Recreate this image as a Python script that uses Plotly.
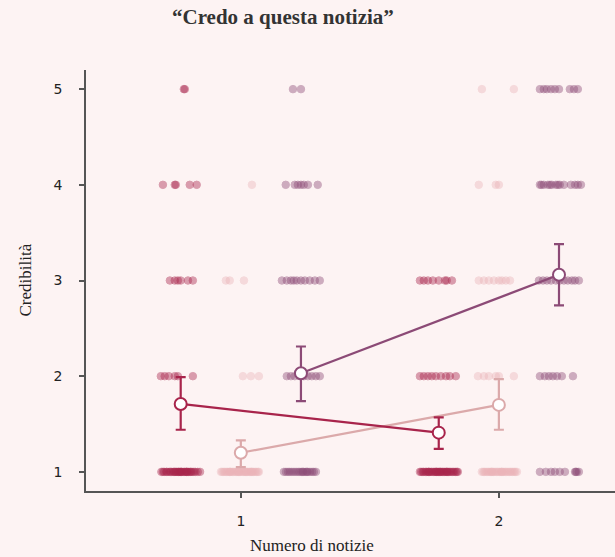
import plotly.graph_objects as go

# ---------------- data ----------------
levels = [1, 2, 3, 4, 5]
x_ticks = [1, 2]
x_tick_labels = ["1", "2"]

# jittered individual responses (x position, by rating level)
crimson_pts = {
    5: [0.779, 0.783],
    4: [0.698, 0.744, 0.748, 0.802, 0.829],
    3: [0.725, 0.744, 0.756, 0.767, 0.795, 0.814],
    2: [0.690, 0.705, 0.721, 0.744, 0.756, 0.814],
    1: [0.692, 0.698, 0.703, 0.711, 0.714, 0.722, 0.727, 0.731, 0.738, 0.742,
        0.749, 0.753, 0.758, 0.764, 0.767, 0.772, 0.779, 0.783, 0.788, 0.792,
        0.797, 0.803, 0.806, 0.811, 0.818, 0.824, 0.833, 0.842, 0.745, 0.760,
        0.770, 0.790,
        1.694, 1.699, 1.705, 1.709, 1.716, 1.720, 1.726, 1.731, 1.737, 1.741,
        1.747, 1.752, 1.756, 1.761, 1.766, 1.770, 1.776, 1.781, 1.785, 1.790,
        1.795, 1.800, 1.805, 1.810, 1.815, 1.821, 1.826, 1.832, 1.837, 1.841,
        1.728, 1.758, 1.773, 1.798],
}
crimson_pts[3] += [1.694, 1.709, 1.725, 1.744, 1.767, 1.791, 1.798, 1.818]
crimson_pts[2] += [1.694, 1.709, 1.725, 1.740, 1.756, 1.775, 1.795, 1.810, 1.833]

light_pts = {
    5: [1.934, 2.058],
    4: [1.043, 1.922, 1.988, 2.000],
    3: [0.942, 0.957, 1.012,
        1.922, 1.942, 1.961, 1.981, 2.000, 2.012, 2.027, 2.043],
    2: [1.008, 1.039, 1.070,
        1.919, 1.942, 1.961, 1.988, 2.000, 2.058],
    1: [0.923, 0.928, 0.934, 0.939, 0.945, 0.950, 0.956, 0.961, 0.967, 0.972,
        0.978, 0.983, 0.989, 0.994, 1.000, 1.005, 1.011, 1.016, 1.022, 1.027,
        1.033, 1.038, 1.044, 1.049, 1.055, 1.060, 1.066, 1.070, 0.958, 0.991,
        1.019, 1.041,
        1.934, 1.940, 1.945, 1.951, 1.957, 1.962, 1.968, 1.974, 1.979, 1.985,
        1.991, 1.996, 2.002, 2.008, 2.013, 2.019, 2.025, 2.030, 2.036, 2.042,
        2.047, 2.053, 2.059, 2.064, 2.070, 1.972, 2.011],
}

purple_pts = {
    5: [1.202, 1.233,
        2.159, 2.174, 2.186, 2.202, 2.217, 2.233, 2.275, 2.291, 2.306],
    4: [1.174, 1.209, 1.221, 1.233, 1.244, 1.260, 1.298,
        2.159, 2.165, 2.174, 2.190, 2.198, 2.205, 2.221, 2.229, 2.236, 2.252,
        2.279, 2.295, 2.306, 2.318],
    3: [1.159, 1.178, 1.194, 1.205, 1.217, 1.233, 1.248, 1.267, 1.287, 1.306,
        2.155, 2.171, 2.186, 2.202, 2.221, 2.236, 2.252, 2.267, 2.283, 2.295,
        2.310],
    2: [1.178, 1.194, 1.209, 1.229, 1.244, 1.260, 1.275, 1.291, 1.306,
        2.159, 2.178, 2.194, 2.209, 2.225, 2.244, 2.287],
    1: [1.167, 1.175, 1.183, 1.190, 1.198, 1.206, 1.214, 1.222, 1.229, 1.236,
        1.244, 1.252, 1.260, 1.268, 1.276, 1.283, 1.291, 1.240, 1.256,
        2.159, 2.182, 2.202, 2.217, 2.236, 2.256, 2.295, 2.298, 2.302, 2.310],
}

# group means and confidence intervals
crimson_x = [0.767, 1.767]
crimson_mean = [1.71, 1.41]
crimson_up = [0.28, 0.16]
crimson_lo = [0.27, 0.17]

light_x = [1.0, 2.0]
light_mean = [1.20, 1.70]
light_up = [0.13, 0.27]
light_lo = [0.15, 0.26]

purple_x = [1.233, 2.233]
purple_mean = [2.03, 3.06]
purple_up = [0.28, 0.32]
purple_lo = [0.29, 0.32]

# ---------------- styling ----------------
BG = "#fdf3f3"
C_CRIMSON = "#a8244b"
C_LIGHT = "#ebb3b8"
C_LIGHT_LINE = "#dba9aa"
C_PURPLE = "#8c4a76"

fig = go.Figure()


def add_points(pts, color, opacity):
    xs, ys = [], []
    for lvl in levels:
        for xv in pts.get(lvl, []):
            xs.append(xv)
            ys.append(lvl)
    fig.add_trace(go.Scatter(
        x=xs, y=ys, mode="markers", hoverinfo="skip", showlegend=False,
        marker=dict(size=7.5, color=color, opacity=opacity,
                    line=dict(color=color, width=1)),
    ))


add_points(light_pts, C_LIGHT, 0.4)
add_points(crimson_pts, C_CRIMSON, 0.42)
add_points(purple_pts, C_PURPLE, 0.42)


def add_means(xs, ms, up, lo, color):
    fig.add_trace(go.Scatter(
        x=xs, y=ms, mode="lines+markers", showlegend=False,
        line=dict(color=color, width=2.2),
        marker=dict(size=12, color="white", line=dict(color=color, width=2)),
        error_y=dict(type="data", array=up, arrayminus=lo, symmetric=False,
                     color=color, thickness=2.2, width=5),
    ))


add_means(light_x, light_mean, light_up, light_lo, C_LIGHT_LINE)
add_means(crimson_x, crimson_mean, crimson_up, crimson_lo, C_CRIMSON)
add_means(purple_x, purple_mean, purple_up, purple_lo, C_PURPLE)

fig.update_layout(
    width=615, height=557,
    margin=dict(l=86, r=0, t=70, b=66),
    paper_bgcolor=BG, plot_bgcolor=BG,
    showlegend=False,
    xaxis=dict(range=[0.40, 2.45], tickvals=x_ticks, ticktext=x_tick_labels,
               showgrid=False, zeroline=False, showline=True,
               linecolor="#555555", linewidth=1.5,
               ticks="outside", ticklen=5, tickwidth=1.5, tickcolor="#555555",
               tickfont=dict(family="DejaVu Sans", size=14, color="#222222"),
               ticklabelstandoff=11),
    yaxis=dict(range=[0.80, 5.20], tickvals=levels,
               showgrid=False, zeroline=False, showline=True,
               linecolor="#555555", linewidth=1.5,
               ticks="outside", ticklen=5, tickwidth=1.5, tickcolor="#555555",
               tickfont=dict(family="DejaVu Sans", size=14, color="#222222"),
               ticklabelstandoff=14),
    annotations=[
        dict(text="<b>“Credo a questa notizia”</b>", xref="paper", yref="paper",
             x=(283 - 86) / 529, y=1 + (70 - 17) / 421, showarrow=False,
             xanchor="center", yanchor="middle",
             font=dict(family="Liberation Serif", size=21, color="#333333")),
        dict(text="Numero di notizie", xref="paper", yref="paper",
             x=(312 - 86) / 529, y=-(545 - 491) / 421, showarrow=False,
             xanchor="center", yanchor="middle",
             font=dict(family="Liberation Serif", size=17, color="#222222")),
        dict(text="Credibilità", xref="paper", yref="paper",
             x=-(86 - 25) / 529, y=0.5, showarrow=False, textangle=-90,
             xanchor="center", yanchor="middle",
             font=dict(family="Liberation Serif", size=17, color="#222222")),
    ],
)

fig.write_html("out.html",
               config={"displayModeBar": False},
               post_script="document.body.style.margin='0';"
                           "document.body.style.padding='0';")
